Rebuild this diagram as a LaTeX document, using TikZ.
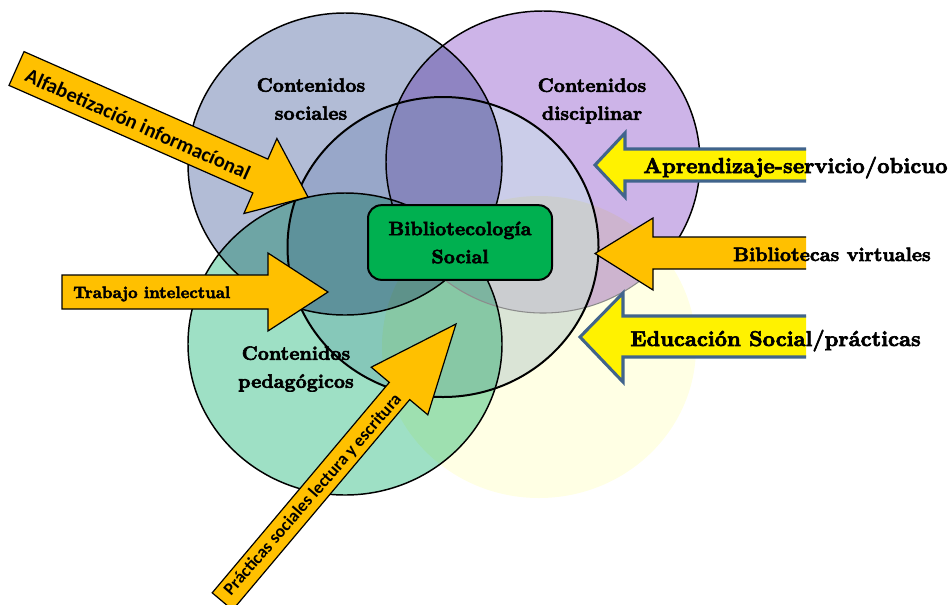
\documentclass[tikz,border=0pt]{standalone}
\usepackage{fontspec}
\newfontfamily\calib{Carlito}
\newfontfamily\bod{lmroman10-bold.otf}[FakeBold=3]
\definecolor{purp}{RGB}{205,180,232}
\definecolor{bgray}{RGB}{178,188,214}
\definecolor{mint}{RGB}{158,224,197}
\definecolor{paley}{RGB}{255,255,228}
\definecolor{cenc}{RGB}{203,217,234}
\definecolor{lensc}{RGB}{128,120,182}
\definecolor{boxg}{RGB}{0,176,80}
\definecolor{orng}{RGB}{255,192,0}
\definecolor{ybord}{RGB}{65,100,140}
\begin{document}
\begin{tikzpicture}[x=0.75pt,y=-0.75pt,
  ell/.style={x radius=157, y radius=151},
  cell/.style={x radius=155.5, y radius=150},
  cline/.style={draw=black, line width=1.1pt},
  orarrow/.style={fill=orng, draw=black, line width=0.9pt, line join=miter},
  yfill/.style={fill=yellow},
  yline/.style={draw=ybord, line width=2.3pt, line join=miter},
  lbl/.style={font=\bod\fontsize{14.5}{21}\selectfont, align=center, inner sep=0pt},
  bigtxt/.style={font=\bod\fontsize{16.2}{19}\selectfont, inner sep=0pt, anchor=base west},
  midtxt/.style={font=\bod\fontsize{14.5}{17}\selectfont, inner sep=0pt, anchor=base west},
  sanstxt/.style={font=\calib\bfseries, inner sep=0pt},
  boxstyle/.style={draw=black, line width=1.5pt, fill=boxg, rounded corners=10pt,
    minimum width=138pt, minimum height=56pt, align=center, inner sep=0pt,
    font=\bod\fontsize{14.5}{21}\selectfont}]
\useasboundingbox (0,0) rectangle (952,604);
% circle centres
\coordinate (cS) at (345,164);
\coordinate (cD) at (543,162);
\coordinate (cP) at (345,344);
\coordinate (cY) at (539,347);
\coordinate (cC) at (443,247);
% fills
\fill[purp] (cD) ellipse [ell];
\fill[cenc, fill opacity=0.7] (cC) ellipse [cell];
\begin{scope}[blend mode=multiply]
  \fill[bgray] (cS) ellipse [ell];
  \fill[paley] (cY) ellipse [ell];
  \fill[mint] (cP) ellipse [ell];
\end{scope}
\begin{scope}
  \clip (cS) ellipse [ell];
  \clip (cC) ellipse [cell];
  \fill[lensc, fill opacity=0.5] (cD) ellipse [ell];
\end{scope}
% borders
\begin{scope}[even odd rule]
  \clip (0,0) rectangle (952,604) (cY) ellipse [ell];
  \draw[cline] (cD) ellipse [ell];
\end{scope}
\begin{scope}
  \clip (cY) ellipse [ell];
  \draw[draw=black!45, line width=0.8pt] (cD) ellipse [ell];
\end{scope}
\draw[cline] (cS) ellipse [ell];
\draw[cline] (cP) ellipse [ell];
\draw[cline, line width=1.5pt] (cC) ellipse [cell];
% circle labels
\node[lbl] (lsoc) at (311,99) {Contenidos\\sociales};
\node[lbl] (ldis) at (592,101) {Contenidos\\disciplinar};
\node[lbl] (lped) at (296,369) {Contenidos\\pedagógicos};
% central box
\node[boxstyle] (bs) at (460,242.5) {Bibliotecología\\Social};
% arrow: Alfabetizacion
\path[orarrow] (24,51.6) -- (267.9,159.1) -- (276.9,138.5) -- (308,197)
  -- (243.9,213.5) -- (252.9,192.9) -- (9,85.4) -- cycle;
\node[sanstxt, font=\calib\bfseries\fontsize{15.4}{18}\selectfont, rotate=-24] (talf) at (138,124) {Alfabetización informacíonal};
% arrow: Trabajo intelectual
\path[orarrow] (62,275) -- (268,275) -- (268,253) -- (328,292) -- (268,331)
  -- (268,309) -- (62,309) -- cycle;
\node[midtxt, font=\bod\fontsize{12.4}{15}\selectfont] (ttra) at (73,298) {Trabajo intelectual};
% arrow: Practicas sociales
\path[orarrow] (212.2,592.8) -- (389.3,382.4) -- (371.2,367.2) -- (456,324)
  -- (427.8,414.8) -- (409.7,399.6) -- (232.6,610) -- cycle;
\node[sanstxt, font=\calib\bfseries\fontsize{13.2}{16}\selectfont, rotate=49] (tpra) at (313,495) {Prácticas sociales lectura y escritura};
% arrow: Aprendizaje-servicio
\fill[yfill] (806,149) -- (625,149) -- (625,133) -- (595,165) -- (625,197) -- (625,181) -- (806,181) -- cycle;
\draw[yline] (806,149) -- (625,149) -- (625,133) -- (595,165) -- (625,197) -- (625,181) -- (806,181);
\node[bigtxt] (tapr) at (643,173) {Aprendizaje-servicio/obicuo};
% arrow: Bibliotecas virtuales
\fill[orng] (806,237) -- (653,237) -- (653,218) -- (595,253.5) -- (653,290) -- (653,269) -- (806,269) -- cycle;
\draw[black, line width=0.9pt, line join=miter] (806,237) -- (653,237) -- (653,218) -- (595,253.5) -- (653,290) -- (653,269) -- (806,269);
\node[midtxt] (tbib) at (733,261) {Bibliotecas virtuales};
% arrow: Educacion social
\fill[yfill] (806,316) -- (623,316) -- (623,293) -- (580,337) -- (623,382) -- (623,357) -- (806,357) -- cycle;
\draw[yline] (806,316) -- (623,316) -- (623,293) -- (580,337) -- (623,382) -- (623,357) -- (806,357);
\node[bigtxt, font=\bod\fontsize{16.1}{19}\selectfont] (tedu) at (630,346) {Educación Social/prácticas};
\end{tikzpicture}
\end{document}
